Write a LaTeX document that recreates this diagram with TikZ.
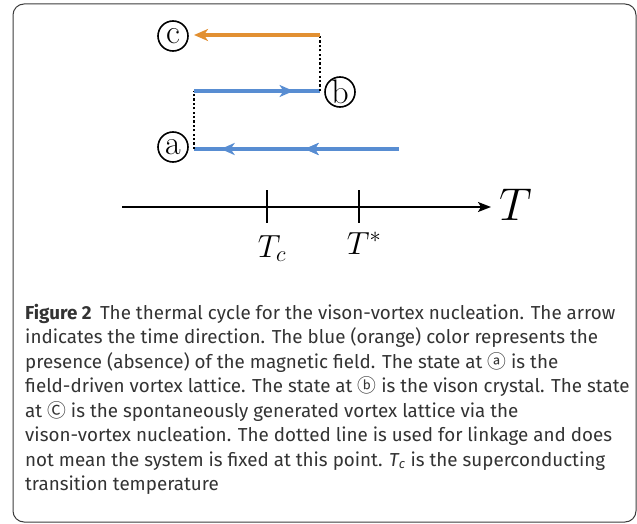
\RequirePackage{fix-cm}
\documentclass[tikz,border=0pt]{standalone}
\usepackage{fontspec}
\newfontfamily\capfont{Fira Sans}
\newfontfamily\cjk{Noto Sans CJK SC}
\usetikzlibrary{arrows.meta,decorations.markings}
\definecolor{fieldblue}{RGB}{88,141,210}
\definecolor{fieldorange}{RGB}{226,144,50}
\definecolor{framegray}{RGB}{60,60,60}
\tikzset{
  bluepath/.style={draw=fieldblue,line width=3.2pt},
  orangepath/.style={draw=fieldorange,line width=3.2pt},
  linkdots/.style={draw=black,line width=2.2pt,dash pattern=on 2.2pt off 2.2pt},
  statelabel/.style={circle,draw=black,line width=1.6pt,minimum size=30pt,inner sep=0pt,font=\fontsize{34}{34}\selectfont},
  midarrow/.style={postaction={decorate},decoration={markings,mark=at position #1 with {\arrow{Stealth[length=14pt,width=12pt,inset=4pt,fill=fieldblue]}}}},
  axisline/.style={draw=black,line width=1.6pt},
  capline/.style={anchor=base west,inner sep=0pt,font=\capfont\fontsize{18.8}{18.8}\selectfont,text=black!80},
}
\begin{document}
\begin{tikzpicture}[x=1pt,y=-1pt]
\useasboundingbox (0,0) rectangle (637,524);
\draw[framegray,line width=1pt,rounded corners=11pt] (13,4) rectangle (636,522);
% states
\node[statelabel] (c) at (173,36) {c};
\node[statelabel] (b) at (340,92) {b};
\node[statelabel] (a) at (173,147) {a};
% path coordinates
\coordinate (a0) at (194,149);
\coordinate (a1) at (399,149);
\coordinate (m0) at (194,91);
\coordinate (m1) at (320,91);
\coordinate (o0) at (194,35);
\coordinate (o1) at (320,35);
% bottom blue line (right to left)
\draw[bluepath,midarrow=0.46,postaction={decorate,decoration={markings,mark=at position 0.87 with {\arrow{Stealth[length=14pt,width=12pt,inset=4pt,fill=fieldblue]}}}}] (a1) -- (a0);
% dotted a
\draw[linkdots] (a0) -- (m0);
% middle blue line
\draw[bluepath,midarrow=0.79] (m0) -- (m1);
% dotted b
\draw[linkdots] (m1) -- (o1);
% orange
\draw[orangepath,-{Stealth[length=14pt,width=12pt,inset=4pt]}] (o1) -- (o0);
% axis
\coordinate (ax0) at (122,207);
\node[inner sep=0pt,anchor=west,font=\fontsize{46}{46}\selectfont] (T) at (499,205) {$T$};
\draw[axisline,-{Stealth[length=13pt,width=10pt,inset=3pt]},shorten >=8pt] (ax0) -- (ax0 -| T.west);
\coordinate (tc0) at (267,190);
\coordinate (tc1) at (267,223);
\coordinate (ts0) at (359,190);
\coordinate (ts1) at (359,223);
\draw[axisline] (tc0) -- (tc1);
\draw[axisline] (ts0) -- (ts1);
\node[font=\fontsize{32}{32}\selectfont,anchor=north,inner sep=0pt] (tclab) at (272,235) {$T_c$};
\node[font=\fontsize{32}{32}\selectfont,anchor=north,inner sep=0pt] (tslab) at (364,232) {$T^{*}$};
% caption
\node[capline] (l1) at (25,319) {\textbf{Figure 2}\hspace{0.45em}The thermal cycle for the vison-vortex nucleation. The arrow};
\node[capline] (l2) at (25,343.5) {indicates the time direction. The blue (orange) color represents the};
\node[capline] (l3) at (25,368) {presence (absence) of the magnetic field. The state at {\cjk ⓐ} is the};
\node[capline] (l4) at (25,392.5) {field-driven vortex lattice. The state at {\cjk ⓑ} is the vison crystal. The state};
\node[capline] (l5) at (25,417) {at {\cjk Ⓒ} is the spontaneously generated vortex lattice via the};
\node[capline] (l6) at (25,441.5) {vison-vortex nucleation. The dotted line is used for linkage and does};
\node[capline] (l7) at (25,466) {not mean the system is fixed at this point. {\itshape T\textsubscript{c}} is the superconducting};
\node[capline] (l8) at (25,490.5) {transition temperature};
\end{tikzpicture}
\end{document}
